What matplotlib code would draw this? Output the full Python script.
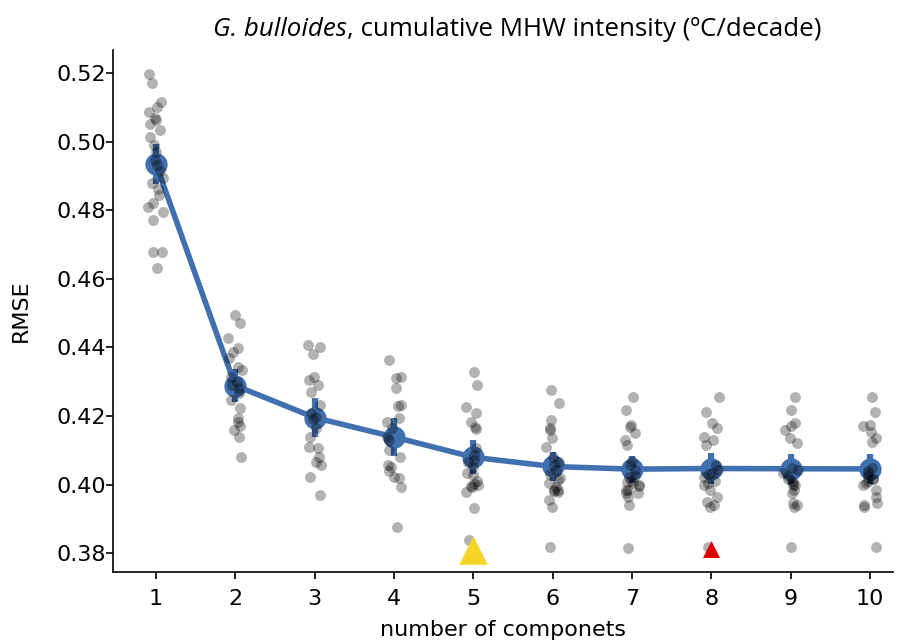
import numpy as np
import matplotlib
matplotlib.use("Agg")
import matplotlib.pyplot as plt

components = [1, 2, 3, 4, 5, 6, 7, 8, 9, 10]

# RMSE of each cross-validation run, per number of components
rmse_1 = [0.5197, 0.517, 0.5115, 0.510, 0.5086, 0.5069, 0.5063, 0.5051, 0.5034, 0.5013,
          0.499, 0.497, 0.4946, 0.4932, 0.4914, 0.4894, 0.488, 0.4862, 0.4844, 0.482,
          0.481, 0.4795, 0.4771, 0.4678, 0.4678, 0.4631]
rmse_2 = [0.4494, 0.4471, 0.4427, 0.4398, 0.4386, 0.4369, 0.4342, 0.4334, 0.4313, 0.4299,
          0.429, 0.4281, 0.4267, 0.4246, 0.4223, 0.4194, 0.4182, 0.417, 0.4159, 0.4138, 0.408]
rmse_3 = [0.4407, 0.4402, 0.438, 0.4313, 0.4305, 0.429, 0.427, 0.4232, 0.4208, 0.4197,
          0.419, 0.4165, 0.4138, 0.4109, 0.4106, 0.408, 0.4065, 0.4057, 0.4022, 0.3969]
rmse_4 = [0.4363, 0.4313, 0.431, 0.4281, 0.4232, 0.4228, 0.4194, 0.4182, 0.4165, 0.4138,
          0.413, 0.41, 0.408, 0.4057, 0.4051, 0.4022, 0.4019, 0.3993, 0.3876, 0.404]
rmse_5 = [0.4328, 0.429, 0.4226, 0.4208, 0.4182, 0.4168, 0.4163, 0.4106, 0.4086, 0.4071,
          0.4065, 0.4051, 0.4033, 0.4027, 0.4003, 0.3998, 0.3993, 0.3978, 0.3931, 0.3838,
          0.401, 0.3995]
rmse_6 = [0.4275, 0.4237, 0.4188, 0.4165, 0.416, 0.4135, 0.411, 0.408, 0.4065, 0.4057,
          0.4042, 0.402, 0.4013, 0.3993, 0.3985, 0.3978, 0.3955, 0.3934, 0.3818, 0.4005,
          0.3985, 0.403, 0.398]
rmse_7 = [0.4255, 0.4217, 0.4173, 0.4168, 0.415, 0.413, 0.4115, 0.407, 0.4057, 0.4042,
          0.4022, 0.4008, 0.3998, 0.3985, 0.3975, 0.3963, 0.394, 0.3815, 0.4005, 0.3995,
          0.3985, 0.401, 0.4025, 0.3975]
rmse_8 = [0.4255, 0.4211, 0.4179, 0.4165, 0.4138, 0.413, 0.4115, 0.4057, 0.4042, 0.4035,
          0.4022, 0.3998, 0.3984, 0.3965, 0.3949, 0.394, 0.3934, 0.3818, 0.401, 0.4005, 0.403]
rmse_9 = [0.4255, 0.4217, 0.4179, 0.4172, 0.4159, 0.4135, 0.4121, 0.4048, 0.4042, 0.4035,
          0.4015, 0.3998, 0.3985, 0.3975, 0.3945, 0.394, 0.3934, 0.3818, 0.401, 0.4005,
          0.4025, 0.400]
rmse_10 = [0.4255, 0.4211, 0.4175, 0.4172, 0.4153, 0.4135, 0.4124, 0.4048, 0.404, 0.4035,
           0.4015, 0.400, 0.3985, 0.3963, 0.3945, 0.394, 0.3934, 0.3818, 0.401, 0.4005,
           0.4025, 0.4015]

runs = [rmse_1, rmse_2, rmse_3, rmse_4, rmse_5, rmse_6, rmse_7, rmse_8, rmse_9, rmse_10]

# highlighted choices
best_yellow = (5, 0.381)
best_red = (8, 0.3812)

means = np.array([np.mean(r) for r in runs])
ci = np.array([1.96 * np.std(r, ddof=1) / np.sqrt(len(r)) for r in runs])

fig, ax = plt.subplots(figsize=(9.07, 6.44), dpi=100)
fig.subplots_adjust(left=0.1246, right=0.9846, top=0.9224, bottom=0.1118)

blue = "#4170b0"
ax.errorbar(components, means, yerr=ci, fmt="-o", color=blue, lw=4, ms=15,
            elinewidth=4.5, capsize=0, zorder=2)

rng = np.random.default_rng(3)
for c, r in zip(components, runs):
    xj = c + rng.uniform(-0.1, 0.1, len(r))
    ax.scatter(xj, r, s=62, color="k", alpha=0.3, linewidths=0, zorder=3)

ax.scatter([best_yellow[0]], [best_yellow[1]], marker="^", s=420, color="#f5d327",
           linewidths=0, zorder=4)
ax.scatter([best_red[0]], [best_red[1]], marker="^", s=150, color="#dd0000",
           linewidths=0, zorder=4)

ax.set_xlim(0.46, 10.29)
ax.set_ylim(0.3745, 0.5267)
ax.set_xticks(components)
ax.set_yticks([0.38, 0.40, 0.42, 0.44, 0.46, 0.48, 0.50, 0.52])
ax.tick_params(labelsize=16, width=1.2, length=5)
ax.tick_params(axis="y", pad=0)
ax.tick_params(axis="x", pad=7)
for s in ["left", "bottom"]:
    ax.spines[s].set_linewidth(1.2)
ax.spines["top"].set_visible(False)
ax.spines["right"].set_visible(False)

ax.set_xlabel("number of componets", fontsize=16, labelpad=8)
ax.set_ylabel("RMSE", fontsize=16, labelpad=18)

# title: italic species name followed by plain text
t1 = fig.text(213 / 907, 1 - 36 / 644, "G. bulloides", fontsize=20, family="Open Sans",
              style="italic", va="baseline", ha="left")
t2 = fig.text(0, 0, ", cumulative MHW intensity (ºC/decade)", fontsize=20,
              family="Open Sans", va="baseline", ha="left")
fig.canvas.draw()
r = fig.canvas.get_renderer()
w = t1.get_window_extent(r).width + t2.get_window_extent(r).width
fs = 20 * 607 / w
t1.set_fontsize(fs)
t2.set_fontsize(fs)
fig.canvas.draw()
x_end = t1.get_window_extent(r).x1
t2.set_position((x_end / fig.bbox.width, 1 - 36 / 644))

plt.savefig("out.png", dpi=100)
